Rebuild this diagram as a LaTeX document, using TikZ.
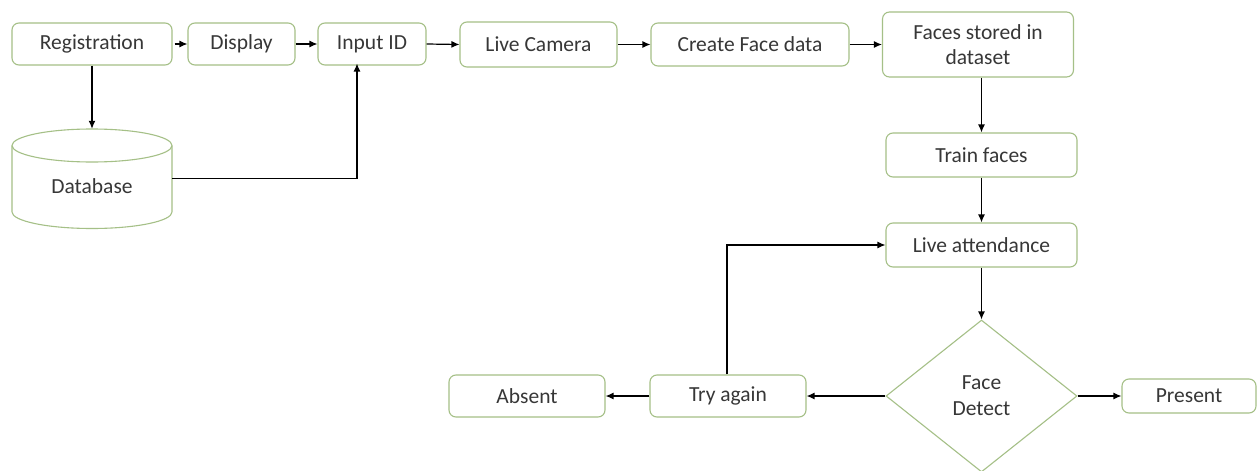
\documentclass[tikz,border=0pt]{standalone}
\usepackage{fontspec}
\setmainfont{Carlito}
\usetikzlibrary{arrows.meta,shapes.geometric}
\definecolor{boxgreen}{RGB}{165,192,135}
\definecolor{txtgray}{RGB}{55,55,55}
\tikzset{
  box/.style={draw=boxgreen, line width=1.1pt, rounded corners=7pt, fill=white,
    inner sep=0pt, align=center, text=txtgray, font=\fontsize{21.5}{25}\selectfont},
  dia/.style={draw=boxgreen, line width=1.1pt, diamond, inner sep=0pt, align=center,
    text=txtgray, font=\fontsize{21.5}{26}\selectfont},
  arr/.style={draw=black, line width=1.2pt, -{Latex[length=8pt,width=7pt]}},
  dbline/.style={draw=boxgreen, line width=1.1pt}
}
\begin{document}
\begin{tikzpicture}[x=1pt,y=-1pt]
\useasboundingbox[fill=white] (0,0) rectangle (1259,471);
% top row
\node[box, minimum width=160pt, minimum height=42pt] (reg) at (92,44) {Registration};
\node[box, minimum width=107pt, minimum height=42pt] (disp) at (241.5,44) {Display};
\node[box, minimum width=108pt, minimum height=42pt] (inp) at (372,44) {Input ID};
\node[box, minimum width=157pt, minimum height=45pt] (cam) at (538.5,44.5) {Live Camera};
\node[box, minimum width=198pt, minimum height=43pt] (create) at (750,44.5) {Create Face data};
\node[box, minimum width=191pt, minimum height=65pt] (stored) at (978,44.5) {Faces stored in\\dataset};
% right column
\node[box, minimum width=191pt, minimum height=44pt] (train) at (981.5,155) {Train faces};
\node[box, minimum width=191pt, minimum height=44pt] (live) at (981.5,245) {Live attendance};
\node[dia, minimum width=191pt, minimum height=152pt] (detect) at (981.5,396) {Face\\Detect};
\node[box, minimum width=134pt, minimum height=34pt] (present) at (1189,396) {Present};
\node[box, minimum width=156pt, minimum height=42pt] (try) at (728,396) {Try again};
\node[box, minimum width=156pt, minimum height=42pt] (absent) at (527,396) {Absent};
% database cylinder
\node[minimum width=160pt, minimum height=99pt, inner sep=0pt] (db) at (92,178.5) {};
\draw[dbline] (12,145.5) -- (12,212) arc[start angle=180, end angle=360, x radius=80pt, y radius=16.5pt] -- (172,145.5);
\draw[dbline] (92,145.5) ellipse[x radius=80pt, y radius=16.5pt];
\node[text=txtgray, font=\fontsize{21.5}{25}\selectfont] (dbtext) at (92,186) {Database};
% connectors
\draw[arr] ([xshift=2pt]reg.east) -- (disp.west);
\draw[arr] (disp.east) -- (inp.west);
\draw[arr] (inp.east) -- (cam.west);
\draw[arr] (cam.east) -- (create.west);
\draw[arr] (create.east) -- (stored.west |- create.east);
\draw[arr] (train.north |- stored.south) -- (train.north);
\draw[arr] (train.south) -- (live.north);
\draw[arr] (live.south) -- (detect.north);
\draw[arr] (detect.east) -- (present.west);
\draw[arr] (detect.west) -- (try.east);
\draw[arr] (try.west) -- (absent.east);
\draw[arr] ([xshift=-1pt]try.north) |- (live.west);
\draw[arr] (reg.south) -- (db.north);
\draw[arr] (db.east) -| ([xshift=-15pt, yshift=2pt]inp.south);
\end{tikzpicture}
\end{document}
